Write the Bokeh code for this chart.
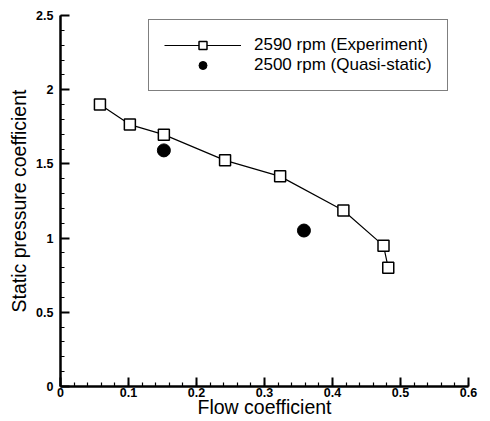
from bokeh.plotting import figure
from bokeh.models import Range1d, FixedTicker, Legend, LegendItem
from bokeh.embed import file_html
from bokeh.resources import INLINE

exp_x = [0.058, 0.102, 0.152, 0.242, 0.323, 0.416, 0.475, 0.482]
exp_y = [1.90, 1.765, 1.697, 1.524, 1.416, 1.186, 0.949, 0.80]
qs_x = [0.152, 0.358]
qs_y = [1.591, 1.051]

x_ticks = [0, 0.1, 0.2, 0.3, 0.4, 0.5, 0.6]
x_labels = ["0", "0.1", "0.2", "0.3", "0.4", "0.5", "0.6"]
y_ticks = [0, 0.5, 1, 1.5, 2, 2.5]
y_labels = ["0", "0.5", "1", "1.5", "2", "2.5"]

x_minor = [round(i * 0.02, 4) for i in range(31)]
y_minor = [round(i * 0.1, 4) for i in range(26)]

p = figure(width=490, height=421, output_backend="svg", toolbar_location=None,
           x_range=Range1d(0, 0.6), y_range=Range1d(0, 2.5),
           min_border_left=60, min_border_right=22, min_border_top=15, min_border_bottom=35)
p.outline_line_color = None
p.xgrid.visible = False
p.ygrid.visible = False

FONT = "Liberation Sans"
for ax, ticks, labels, minor in ((p.xaxis[0], x_ticks, x_labels, x_minor),
                                 (p.yaxis[0], y_ticks, y_labels, y_minor)):
    ax.ticker = FixedTicker(ticks=ticks, minor_ticks=minor)
    ax.major_label_overrides = {t: l for t, l in zip(ticks, labels)}
    ax.axis_line_width = 2.5
    ax.axis_line_color = "black"
    ax.major_tick_in = 9
    ax.major_tick_out = 0
    ax.minor_tick_in = 4
    ax.minor_tick_out = 0
    ax.major_tick_line_width = 2
    ax.minor_tick_line_width = 1.2
    ax.major_label_text_font = FONT
    ax.major_label_text_font_style = "bold"
    ax.major_label_text_font_size = "12.5px"
    ax.major_label_text_color = "black"
    ax.axis_label_text_font = FONT
    ax.axis_label_text_font_style = "normal"
    ax.axis_label_text_font_size = "19.5px"
    ax.axis_label_text_color = "black"

p.xaxis.axis_label = "Flow coefficient"
p.yaxis.axis_label = "Static pressure coefficient"
p.xaxis.major_label_standoff = 1
p.xaxis.axis_label_standoff = -4
p.yaxis.major_label_standoff = 7
p.yaxis.axis_label_standoff = 3
p.yaxis.major_label_orientation = "horizontal"

ln = p.line(exp_x, exp_y, line_color="black", line_width=1.2)
sq = p.scatter(exp_x, exp_y, marker="square", size=11, fill_color="white",
               line_color="black", line_width=1.5)
ci = p.scatter(qs_x, qs_y, marker="circle", size=13, fill_color="black", line_color="black")

legend = Legend(items=[LegendItem(label="2590 rpm (Experiment)", renderers=[ln, sq]),
                       LegendItem(label="2500 rpm (Quasi-static)", renderers=[ci])],
                location=(88, 295), glyph_width=77, glyph_height=20, label_height=20,
                label_standoff=13, padding=15, spacing=0, margin=0,
                border_line_color="black", border_line_width=1.5,
                label_text_font=FONT, label_text_font_size="17px", label_text_color="black",
                background_fill_alpha=1)
p.add_layout(legend, "center")

open("out.html", "w").write(file_html(p, INLINE))
